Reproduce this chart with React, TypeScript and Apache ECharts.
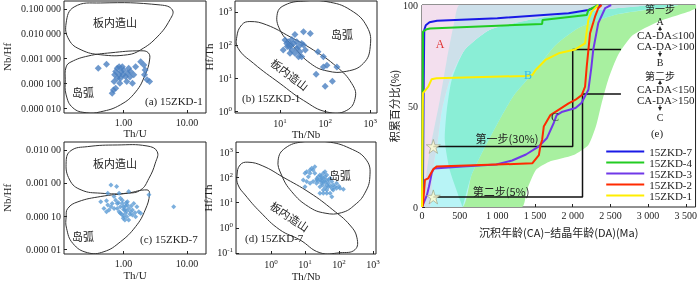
import { useEffect, useRef } from "react";
import * as echarts from "echarts";

const SERIF = '"Liberation Serif", "DejaVu Serif", serif';
const CJK = '"Noto Sans CJK SC", "Liberation Serif", sans-serif';
const TXT = "#222";

// ---------- tick values / labels (log axes use base-10 exponents) ----------
const thuTicks = [0, 1];
const thuLabels = ["1.00", "10.00"];
const nbhfTicksA = [-1, -2, -3, -4, -5];
const nbhfLabelsA = ["0.100 000", "0.010 000", "0.001 000", "0.000 100", "0.000 010"];
const nbhfTicksC = [-2, -3, -4, -5];
const nbhfLabelsC = ["0.010 00", "0.001 00", "0.000 10", "0.000 01"];
const thnbTicksB = [1, 2, 3];
const hfthTicksB = [0, 1, 2, 3];
const thnbTicksD = [0, 1, 2, 3];
const hfthTicksD = [-1, 0, 1, 2, 3];
const ageTicks = [0, 500, 1000, 1500, 2000, 2500, 3000, 3500];
const ageLabels = ["0", "500", "1 000", "1 500", "2 000", "2 500", "3 000", "3 500"];
const pctTicks = [0, 50, 100];

// ---------- discrimination fields (log10 exponents) ----------
const fieldA_intra = [[-0.906,-1.565],[-0.78,-0.92],[-0.36,-0.76],[0.58,-0.84],[0.77,-1.04],[0.73,-1.44],[0.53,-2.13],[0.27,-2.65],[0.06,-2.85],[-0.36,-2.85],[-0.67,-2.65],[-0.86,-2.25]];
const fieldA_arc = [[-0.906,-3.34],[-0.83,-3.14],[-0.56,-2.9],[-0.2,-2.77],[0.27,-2.69],[0.39,-2.77],[0.41,-3.06],[0.34,-3.66],[0.19,-4.35],[-0.05,-4.87],[-0.36,-5.15],[-0.59,-5.19],[-0.8,-4.99],[-0.906,-4.47],[-0.92,-3.86]];
const fieldB_arc = [[0.94,2.96],[1.11,3.21],[1.52,3.33],[2.04,3.31],[2.56,3.06],[2.93,2.55],[3.0,1.95],[2.85,1.45],[2.48,1.21],[2.04,1.22],[1.67,1.45],[1.3,1.95],[1.0,2.45]];
const fieldB_intra = [[0.04,2.25],[0.15,2.61],[0.33,2.71],[0.7,2.61],[1.22,2.25],[1.74,1.85],[2.26,1.34],[2.59,0.84],[2.67,0.43],[2.48,0.03],[2.04,-0.02],[1.52,0.33],[1.0,0.84],[0.41,1.45],[0.07,1.9]];
const fieldC_intra = [[-0.906,-2.35],[-0.83,-2.02],[-0.57,-1.9],[-0.1,-1.85],[0.37,-1.88],[0.53,-2.05],[0.5,-2.4],[0.4,-2.86],[0.27,-3.21],[0.06,-3.31],[-0.36,-3.31],[-0.67,-3.21],[-0.85,-2.91]];
const fieldC_arc = [[-0.906,-4.02],[-0.88,-3.77],[-0.72,-3.57],[-0.36,-3.41],[0.06,-3.31],[0.37,-3.21],[0.41,-3.33],[0.34,-3.82],[0.19,-4.32],[-0.05,-4.78],[-0.31,-5.08],[-0.57,-5.11],[-0.8,-4.83],[-0.9,-4.37]];
const fieldD_arc = [[0.21,2.68],[0.41,3.15],[0.95,3.41],[1.64,3.41],[2.32,3.15],[2.81,2.68],[2.91,2.02],[2.76,1.37],[2.47,0.91],[2.08,0.6],[1.59,0.58],[1.1,0.84],[0.61,1.43],[0.31,2.09]];
const fieldD_intra = [[-1.0,2.09],[-0.91,2.49],[-0.68,2.6],[-0.24,2.45],[0.35,2.01],[1.15,1.38],[1.82,0.71],[2.32,0.11],[2.53,-0.4],[2.47,-0.87],[2.03,-0.99],[1.44,-0.99],[0.85,-0.48],[0.26,-0.08],[-0.32,0.63],[-0.76,1.3],[-0.97,1.7]];

// ---------- zircon data (log10 exponents) ----------
const zkd1_thu_nbhf = [[-0.4,-3.39],[-0.27,-3.23],[-0.16,-4.27],[-0.18,-4.4],[-0.15,-3.93],[-0.125,-3.53],[-0.1,-3.39],[-0.07,-3.66],[-0.05,-3.8],[-0.02,-3.33],[0.0,-3.46],[0.03,-3.73],[0.05,-3.93],[0.06,-3.59],[0.08,-3.39],[0.11,-3.53],[0.14,-4.0],[0.16,-3.66],[0.19,-3.33],[0.27,-3.13],[0.32,-3.26],[0.34,-3.46],[0.33,-3.66],[0.37,-3.86],[0.41,-3.93],[-0.07,-3.33],[-0.04,-3.53],[-0.01,-3.66],[-0.06,-4.0],[-0.125,-4.2],[-0.1,-3.8],[0.1,-3.75],[-0.14,-3.66]];
const zkd1_thnb_hfth = [[1.07,1.85],[1.15,2.05],[1.18,2.1],[1.21,1.95],[1.24,2.0],[1.26,1.85],[1.3,2.05],[1.33,1.75],[1.37,1.9],[1.41,1.95],[1.44,1.8],[1.48,1.65],[1.52,2.0],[1.56,1.85],[1.33,2.32],[1.52,2.4],[1.67,2.35],[1.48,2.05],[1.22,1.75],[1.11,2.15],[1.84,1.8],[1.96,1.65],[1.96,1.34],[2.04,1.39],[1.8,1.12],[2.0,0.76],[2.16,0.91],[2.26,1.34],[1.37,2.1],[1.16,1.96],[1.41,1.65],[1.26,2.17]];
const zkd7_thu_nbhf = [[-0.2,-3.06],[-0.11,-3.11],[-0.25,-3.31],[-0.15,-3.41],[-0.36,-3.57],[-0.27,-3.54],[-0.25,-3.67],[-0.23,-3.82],[-0.18,-3.62],[-0.125,-3.52],[-0.07,-3.31],[-0.05,-3.46],[-0.02,-3.62],[0.0,-3.72],[0.02,-3.82],[0.03,-3.92],[0.05,-4.02],[0.06,-3.67],[0.08,-3.77],[0.11,-3.87],[0.14,-3.97],[0.16,-3.62],[0.21,-3.72],[0.24,-3.87],[0.27,-3.92],[0.08,-3.26],[-0.05,-3.72],[-0.07,-3.87],[-0.1,-3.77],[-0.15,-3.77],[-0.2,-3.72],[-0.005,-4.07],[0.02,-4.12],[0.08,-4.12],[0.14,-3.82],[0.19,-4.02],[0.79,-3.72],[-0.05,-3.92],[0.06,-3.57],[-0.02,-3.52],[-0.1,-3.62],[0.4,-3.36],[-0.31,-3.77],[-0.27,-3.87],[0.0,-3.8],[0.03,-3.7],[0.05,-3.85],[-0.03,-3.95],[0.1,-3.95],[0.12,-3.7],[0.0,-4.0],[-0.08,-3.6],[0.04,-3.6],[0.18,-3.9]];
const zkd7_thnb_hfth = [[0.95,1.89],[1.0,2.16],[1.05,2.22],[1.1,2.02],[1.15,2.16],[1.2,2.36],[1.24,2.29],[1.29,2.16],[1.34,1.89],[1.24,1.83],[1.15,1.76],[1.39,2.02],[1.44,2.09],[1.49,1.96],[1.54,2.16],[1.56,1.83],[1.59,2.02],[1.64,1.89],[1.69,1.76],[1.74,1.96],[1.79,1.83],[1.83,1.7],[1.88,1.63],[1.93,1.57],[2.03,1.57],[2.13,1.53],[1.64,1.5],[1.74,1.37],[1.54,1.5],[1.44,1.63],[1.49,1.76],[1.69,1.63],[1.59,2.22],[1.64,2.09],[1.79,1.23],[1.34,1.76],[1.05,1.83],[1.0,1.63],[1.15,2.29],[1.29,2.42],[1.83,1.5],[1.93,1.76],[1.64,1.37],[1.54,1.37],[1.44,1.37],[1.45,1.9],[1.5,1.85],[1.55,1.95],[1.6,1.8],[1.65,1.7],[1.7,1.9],[1.4,1.85],[1.35,1.95],[1.6,1.6],[1.75,1.65],[1.8,1.55],[2.0,1.65],[1.48,2.05],[1.52,1.7]];

// ---------- (e) cumulative curves: [CA-DA (Ma), cumulative %] ----------
const seriesNames = ["15ZKD-7", "15ZKD-4", "15ZKD-3", "15ZKD-2", "15ZKD-1"];
const seriesColors = ["#1a1ae6", "#22cc22", "#7038e8", "#ff2a00", "#ffee00"];
const cum7 = [[0,0],[13,10],[20,50],[30,87.6],[50,90],[100,91.5],[200,92.2],[1000,93.5],[1945,95.9],[2208,97.5],[2378,100]];
const cum4 = [[0,0],[8,40],[13,86.8],[62,88],[105,88.4],[1594,90.6],[1600,92.6],[2186,95],[2208,97.5],[2339,100]];
const cum3 = [[0,0],[66,6],[92,10],[131,17],[158,19],[539,20],[986,21],[1196,23],[1380,26],[1551,30],[1656,34],[1748,41.6],[1787,45.5],[1853,47],[2037,49],[2116,51.5],[2208,58],[2247,69],[2273,78],[2339,91],[2431,98.5],[2510,100]];
const cum2 = [[0,0],[13,1],[39,13.4],[83,14.2],[149,18.7],[193,20],[986,21],[1463,21.6],[1551,25.7],[1573,30.7],[1594,33.2],[1616,39.8],[1704,45.5],[1945,51.3],[2033,53],[2120,55.4],[2164,59.6],[2186,69.5],[2208,77.7],[2230,86],[2296,94.2],[2339,98.4],[2383,100]];
const cum1 = [[0,0],[10,50],[13,56.4],[83,59.6],[127,63.2],[193,63.7],[1375,64.9],[1463,65.3],[1507,67.8],[1638,72.8],[1813,76.1],[2033,78],[2164,81],[2208,92.6],[2251,96.7],[2339,100]];
const step1 = [[150,30],[2000,30],[2000,78],[2640,78]];
const step2 = [[150,5],[2130,5],[2130,56],[2640,56]];
const stars = [[150,30],[150,5]];

// tectonic-setting field boundaries for (e)
const collLeft = [[13,0],[39,10.9],[105,28.2],[237,53],[329,72.8],[434,92.6],[499,100]];
const collRight = [[539,0],[657,15.8],[828,29.2],[1025,43],[1222,55.4],[1485,66.8],[1774,80.2],[2076,88.6],[2602,95.5],[3390,100]];
const convRight = [[105,0],[145,18.3],[210,33.2],[263,48],[368,62.9],[565,77.7],[894,87.6],[1551,93.6],[2339,97.5],[2996,100]];
const extLeft = [[539,0],[368,18.3],[302,33.2],[329,48],[394,62.9],[565,77.7],[894,87.6],[1419,95],[2339,98.5],[2865,100]];
const extRight = [[1327,0],[1393,8.4],[1511,18.3],[1682,22.3],[2011,25.7],[2208,30.7],[2313,40.6],[2378,50.5],[2470,62.9],[2602,75.2],[2799,85.1],[3127,91.6],[3522,96.5],[3640,98.5]];

const rev = (a: number[][]) => a.slice().reverse();
const near = (a: number, b: number) => Math.abs(a - b) < 1e-6;
const lookup = (ticks: number[], labels: string[]) => (v: number) => {
  const i = ticks.findIndex((t) => near(t, v));
  return i >= 0 ? labels[i] : "";
};
const supFmt = (v: number) => `{b|10}{s|${Math.round(v)}}`;
const supRich = {
  b: { fontSize: 10, fontFamily: SERIF, color: TXT },
  s: { fontSize: 7, fontFamily: SERIF, color: TXT, verticalAlign: "bottom", padding: [0, 0, 5, 0] },
};

function mkAxis(o: any) {
  const { grid, min, max, ticks, fmt, rich, name, gap, y, margin, nameFont } = o;
  return {
    type: "value",
    gridIndex: grid,
    position: y ? "left" : "bottom",
    min,
    max,
    name,
    nameLocation: "middle",
    nameGap: gap,
    nameRotate: y ? 90 : 0,
    nameTextStyle: { fontFamily: nameFont || SERIF, fontSize: 11, color: TXT },
    axisLine: { show: false, onZero: false },
    splitLine: { show: false },
    axisTick: { show: true, inside: true, length: 3, customValues: ticks, lineStyle: { color: TXT } },
    axisLabel: {
      customValues: ticks,
      formatter: fmt,
      rich,
      margin: margin ?? 4,
      fontSize: 10,
      fontFamily: SERIF,
      color: TXT,
    },
  };
}

function outline(pts: number[][], idx: number) {
  return {
    type: "custom",
    xAxisIndex: idx,
    yAxisIndex: idx,
    clip: true,
    silent: true,
    z: 3,
    data: pts,
    renderItem: (params: any, api: any) => {
      if (params.dataIndex !== 0) return null;
      return {
        type: "polygon",
        shape: { points: pts.map((p) => api.coord(p)), smooth: 0.45 },
        style: { fill: "none", stroke: "#333", lineWidth: 1 },
      };
    },
  };
}

function area(pts: number[][], fill: string, z: number) {
  return {
    type: "custom",
    xAxisIndex: 4,
    yAxisIndex: 4,
    clip: true,
    silent: true,
    z,
    data: pts,
    renderItem: (params: any, api: any) => {
      if (params.dataIndex !== 0) return null;
      return {
        type: "polygon",
        shape: { points: pts.map((p) => api.coord(p)), smooth: 0.2 },
        style: { fill, stroke: "none" },
      };
    },
  };
}

function scatter(data: number[][], idx: number, size: number, color: string) {
  return {
    type: "scatter",
    xAxisIndex: idx,
    yAxisIndex: idx,
    data,
    symbol: "diamond",
    symbolSize: size,
    itemStyle: { color },
    silent: true,
    z: 4,
  };
}

const txt = (text: string, x: number, y: number, o: any = {}) => ({
  type: "text",
  x,
  y,
  rotation: o.rotation || 0,
  z: 100,
  style: {
    text,
    fill: o.fill || TXT,
    fontSize: o.size || 11,
    fontFamily: o.font || SERIF,
    align: o.align || "center",
    verticalAlign: "middle",
  },
});

function arrow(x: number, y1: number, y2: number) {
  const dir = y2 < y1 ? -1 : 1;
  return [
    { type: "line", z: 100, shape: { x1: x, y1, x2: x, y2: y2 - dir * 3 }, style: { stroke: TXT, lineWidth: 1 } },
    { type: "polygon", z: 100, shape: { points: [[x - 2, y2 - dir * 4], [x + 2, y2 - dir * 4], [x, y2]] }, style: { fill: TXT } },
  ];
}

function buildOption(): any {
  const gridBase = { show: true, borderColor: "#222", borderWidth: 1, backgroundColor: "transparent" };
  const cums = [cum7, cum4, cum3, cum2, cum1];
  return {
    animation: false,
    textStyle: { fontFamily: SERIF },
    grid: [
      { ...gridBase, left: 63, top: 1, width: 143, height: 112 },
      { ...gridBase, left: 235, top: 1, width: 142, height: 112 },
      { ...gridBase, left: 63, top: 142, width: 143, height: 112 },
      { ...gridBase, left: 236, top: 142, width: 140, height: 112 },
      { ...gridBase, left: 422, top: 5, width: 276, height: 202 },
    ],
    xAxis: [
      mkAxis({ grid: 0, min: -0.94, max: 1.3, ticks: thuTicks, fmt: lookup(thuTicks, thuLabels), name: "Th/U", gap: 14 }),
      mkAxis({ grid: 1, min: 0, max: 3.15, ticks: thnbTicksB, fmt: supFmt, rich: supRich, name: "Th/Nb", gap: 14 }),
      mkAxis({ grid: 2, min: -0.94, max: 1.3, ticks: thuTicks, fmt: lookup(thuTicks, thuLabels), name: "Th/U", gap: 15 }),
      mkAxis({ grid: 3, min: -1.03, max: 3.09, ticks: thnbTicksD, fmt: supFmt, rich: supRich, name: "Th/Nb", gap: 16 }),
      mkAxis({ grid: 4, min: 0, max: 3630, ticks: ageTicks, fmt: lookup(ageTicks, ageLabels), name: "沉积年龄(CA)−结晶年龄(DA)(Ma)", gap: 19, margin: 3, nameFont: CJK }),
    ],
    yAxis: [
      mkAxis({ grid: 0, min: -5.2, max: -0.68, ticks: nbhfTicksA, fmt: lookup(nbhfTicksA, nbhfLabelsA), name: "Nb/Hf", gap: 52, y: true, margin: 3 }),
      mkAxis({ grid: 1, min: -0.05, max: 3.33, ticks: hfthTicksB, fmt: supFmt, rich: supRich, name: "Hf/Th", gap: 15, y: true, margin: 3 }),
      mkAxis({ grid: 2, min: -5.15, max: -1.76, ticks: nbhfTicksC, fmt: lookup(nbhfTicksC, nbhfLabelsC), name: "Nb/Hf", gap: 52, y: true, margin: 3 }),
      mkAxis({ grid: 3, min: -1.04, max: 3.4, ticks: hfthTicksD, fmt: supFmt, rich: supRich, name: "Hf/Th", gap: 15, y: true, margin: 3 }),
      mkAxis({ grid: 4, min: 0, max: 100, ticks: pctTicks, fmt: (v: number) => String(Math.round(v)), name: "积累百分比(%)", gap: 16, y: true, margin: 4, nameFont: CJK }),
    ],
    legend: {
      data: seriesNames,
      orient: "vertical",
      right: 3,
      top: 141,
      icon: "rect",
      itemWidth: 38,
      itemHeight: 2,
      itemGap: 0,
      selectedMode: false,
      textStyle: { fontFamily: SERIF, fontSize: 11, color: TXT, lineHeight: 11 },
    },
    series: [
      // fields (e)
      area([...extLeft, [3640, 100], ...rev(extRight)], "#a8f0a0", 1),
      area([...collLeft, ...rev(collRight)], "#b8f4f6", 1),
      area([...extLeft, ...rev(collRight)], "#8aeed6", 1),
      area([[0, 0], [0, 100], ...rev(convRight)], "#f3dfee", 1),
      area([...collLeft, ...rev(convRight)], "#cde0ea", 1),
      // outlines
      outline(fieldA_intra, 0),
      outline(fieldA_arc, 0),
      outline(fieldB_arc, 1),
      outline(fieldB_intra, 1),
      outline(fieldC_intra, 2),
      outline(fieldC_arc, 2),
      outline(fieldD_arc, 3),
      outline(fieldD_intra, 3),
      // points
      scatter(zkd1_thu_nbhf, 0, 7, "#4a7fc0"),
      scatter(zkd1_thnb_hfth, 1, 7, "#4a7fc0"),
      scatter(zkd7_thu_nbhf, 2, 5, "#5b9bd5"),
      scatter(zkd7_thnb_hfth, 3, 5, "#5b9bd5"),
      // step lines
      ...[step1, step2].map((d) => ({
        type: "line",
        xAxisIndex: 4,
        yAxisIndex: 4,
        data: d,
        symbol: "none",
        silent: true,
        lineStyle: { color: "#111", width: 1.5 },
        z: 4,
      })),
      // cumulative curves
      ...cums.map((d, i) => ({
        type: "line",
        name: seriesNames[i],
        xAxisIndex: 4,
        yAxisIndex: 4,
        data: d,
        symbol: "none",
        silent: true,
        color: seriesColors[i],
        lineStyle: { color: seriesColors[i], width: 2 },
        z: 5,
      })),
      {
        type: "scatter",
        xAxisIndex: 4,
        yAxisIndex: 4,
        data: stars,
        symbol: "path://M50,0 L61,35 L98,35 L68,57 L79,91 L50,70 L21,91 L32,57 L2,35 L39,35 Z",
        symbolSize: 14,
        itemStyle: { color: "#fffbd0", borderColor: "#9a9a80", borderWidth: 0.8 },
        silent: true,
        z: 6,
      },
    ],
    graphic: [
      txt("板内造山", 115, 22, { font: CJK }),
      txt("岛弧", 83, 92, { font: CJK }),
      txt("(a) 15ZKD-1", 145, 101, { align: "left" }),
      txt("岛弧", 342, 34, { font: CJK }),
      txt("板内造山", 290, 74, { font: CJK, rotation: -0.65 }),
      txt("(b) 15ZKD-1", 242, 98, { align: "left" }),
      txt("板内造山", 115, 163, { font: CJK }),
      txt("岛弧", 83, 236, { font: CJK }),
      txt("(c) 15ZKD-7", 140, 239, { align: "left" }),
      txt("岛弧", 340, 175, { font: CJK }),
      txt("板内造山", 290, 216, { font: CJK, rotation: -0.59 }),
      txt("(d) 15ZKD-7", 245, 238, { align: "left" }),
      txt("A", 440, 44, { fill: "#e03030", size: 12 }),
      txt("B", 528, 75, { fill: "#33bbee", size: 12 }),
      txt("C", 555, 117, { fill: "#333", size: 12 }),
      txt("第一步(30%)", 507, 138, { font: CJK }),
      txt("第二步(5%)", 501, 191, { font: CJK }),
      txt("第一步", 660, 8, { font: CJK, size: 10 }),
      txt("A", 660, 21, { size: 10 }),
      ...arrow(660, 31, 26),
      txt("CA-DA≤100", 637, 35, { align: "left", size: 11 }),
      txt("CA-DA>100", 637, 46, { align: "left", size: 11 }),
      ...arrow(660, 51, 57),
      txt("B", 660, 62, { size: 10 }),
      txt("第二步", 660, 75, { font: CJK, size: 10 }),
      ...arrow(660, 85, 80),
      txt("CA-DA<150", 637, 89, { align: "left", size: 11 }),
      txt("CA-DA>150", 637, 100, { align: "left", size: 11 }),
      ...arrow(660, 105, 111),
      txt("C", 660, 117, { size: 10 }),
      txt("(e)", 657, 133, { size: 11 }),
    ],
  };
}

export default function App() {
  const ref = useRef<HTMLDivElement>(null);
  useEffect(() => {
    const chart = echarts.init(ref.current!, undefined, { renderer: "svg" });
    chart.setOption(buildOption());
    return () => chart.dispose();
  }, []);
  return <div ref={ref} style={{ position: "fixed", left: 0, top: 0, width: 700, height: 282 }} />;
}
